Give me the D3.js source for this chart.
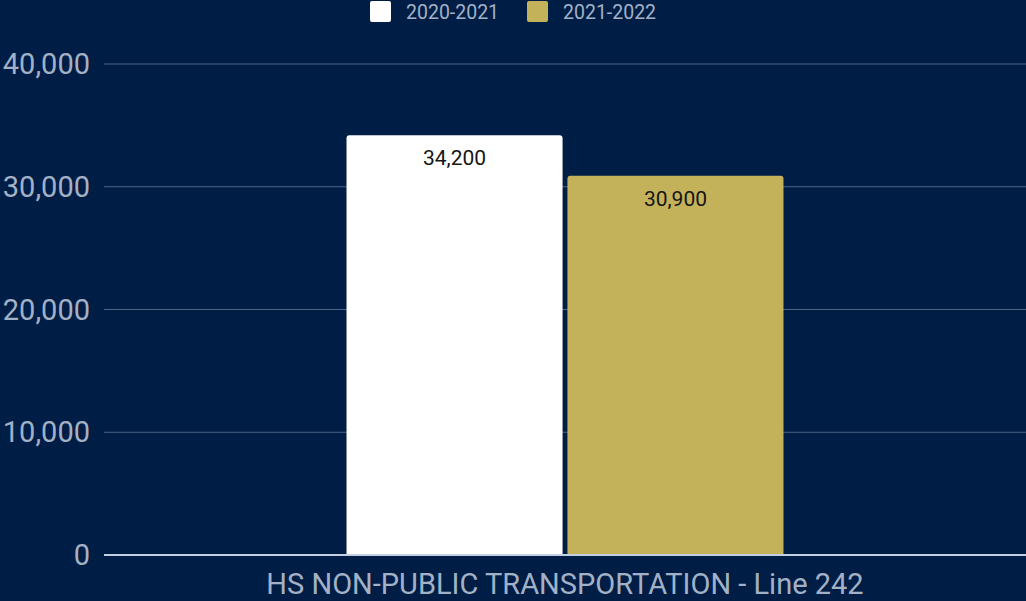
<!DOCTYPE html>
<html><head><meta charset="utf-8">
<script src="https://cdn.jsdelivr.net/npm/d3@7"></script>
<style>html,body{margin:0;padding:0;background:#001e45;overflow:hidden}</style>
</head><body>
<svg id="c" width="1026" height="601"></svg>
<script>
const categories = ["HS NON-PUBLIC TRANSPORTATION - Line 242"];
const seriesNames = ["2020-2021", "2021-2022"];
const values2020 = [34200];
const values2021 = [30900];
const yTicks = [0, 10000, 20000, 30000, 40000];
const colors = ["#ffffff", "#c4b25b"];

const W = 1026, H = 601;
const svg = d3.select("#c");
svg.append("rect").attr("width", W).attr("height", H).attr("fill", "#001e45");

const mLeft = 104, mRight = 1026, mTop = 64, mBottom = 555;
const y = d3.scaleLinear().domain([0, 40000]).range([mBottom, mTop]);
const x0 = d3.scaleBand().domain(categories).range([mLeft, mRight]).paddingInner(0).paddingOuter(0.555);
const x1 = d3.scaleBand().domain(seriesNames).range([0, x0.bandwidth()]).paddingInner(0.022);

const font = "Roboto, 'Open Sans', sans-serif";
const axisColor = "#a3b1c6";

// gridlines
svg.append("g").selectAll("line").data(yTicks.filter(d => d > 0)).join("line")
  .attr("x1", mLeft).attr("x2", mRight)
  .attr("y1", d => y(d)).attr("y2", d => y(d))
  .attr("stroke", "#4f6383").attr("stroke-width", 1);

// y labels
svg.append("g").selectAll("text").data(yTicks).join("text")
  .attr("x", 90).attr("y", d => y(d) + 10)
  .attr("text-anchor", "end").attr("fill", axisColor)
  .attr("font-family", font).attr("font-size", 29)
  .text(d => d3.format(",")(d));

// bars
const data = categories.map((c, i) => ({cat: c, vals: [values2020[i], values2021[i]]}));
const g = svg.append("g");
data.forEach(d => {
  d.vals.forEach((v, j) => {
    const bx = x0(d.cat) + x1(seriesNames[j]);
    const bw = x1.bandwidth();
    g.append("path")
      .attr("d", () => {
        const r = 3, x = bx, yy = y(v), h = y(0) - y(v);
        return `M${x},${yy + h} V${yy + r} Q${x},${yy} ${x + r},${yy} H${x + bw - r} Q${x + bw},${yy} ${x + bw},${yy + r} V${yy + h} Z`;
      })
      .attr("fill", colors[j]);
    g.append("text")
      .attr("x", bx + bw / 2).attr("y", y(v) + 30)
      .attr("text-anchor", "middle").attr("fill", "#151515")
      .attr("font-family", font).attr("font-size", 21)
      .text(d3.format(",")(v));
  });
});

// baseline
svg.append("line").attr("x1", mLeft).attr("x2", mRight)
  .attr("y1", y(0)).attr("y2", y(0))
  .attr("stroke", "#c3d0e3").attr("stroke-width", 2);

// x label
svg.append("g").selectAll("text").data(categories).join("text")
  .attr("x", d => x0(d) + x0.bandwidth() / 2).attr("y", 594)
  .attr("text-anchor", "middle").attr("fill", axisColor)
  .attr("font-family", font).attr("font-size", 29)
  .text(d => d);

// legend
const leg = svg.append("g");
const legX = [370, 527];
seriesNames.forEach((s, i) => {
  leg.append("rect").attr("x", legX[i]).attr("y", 1).attr("width", 21).attr("height", 21)
    .attr("rx", 2).attr("fill", colors[i]);
  leg.append("text").attr("x", legX[i] + 36).attr("y", 19)
    .attr("fill", axisColor).attr("font-family", font).attr("font-size", 19.5)
    .text(s);
});
</script>
</body></html>
